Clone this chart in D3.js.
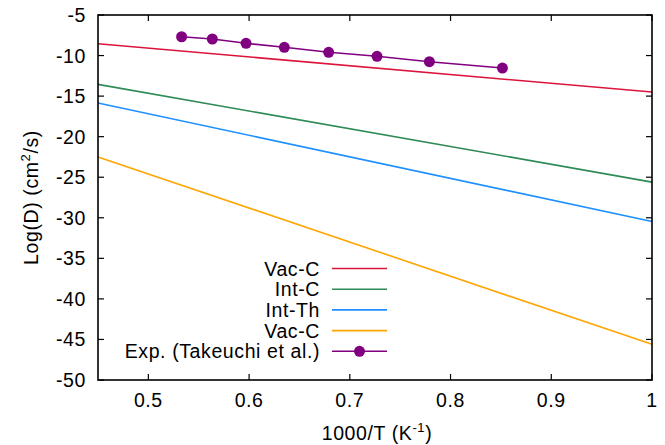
<!DOCTYPE html>
<html>
<head>
<meta charset="utf-8">
<script src="https://cdn.jsdelivr.net/npm/d3@7"></script>
<style>
  body { margin: 0; background: #fff; }
  text { font-family: "Liberation Sans", Arial, sans-serif; fill: #000; letter-spacing: 0.6px; }
</style>
</head>
<body>
<div id="chart"></div>
<script>
// model lines: [x, logD] at both ends of the plot
const seriesNames = ['Vac-C', 'Int-C', 'Int-Th', 'Vac-C'];
const seriesColors = ['#dc143c', '#2e8b57', '#1e90ff', '#ffa500'];
const lineX = [0.45, 1.0];
const vacC1 = [-8.55, -14.5];
const intC = [-13.55, -25.6];
const intTh = [-15.85, -30.45];
const vacC2 = [-22.5, -45.6];

// experiment (Takeuchi et al.)
const expX = [0.533, 0.5635, 0.597, 0.635, 0.679, 0.727, 0.779, 0.8515];
const expY = [-7.68, -7.96, -8.49, -8.98, -9.6, -10.09, -10.76, -11.54];

const xTicks = [0.5, 0.6, 0.7, 0.8, 0.9, 1];
const yTicks = [-5, -10, -15, -20, -25, -30, -35, -40, -45, -50];

const W = 665, H = 445;
const margin = {top: 15, right: 13, bottom: 65, left: 98};
const fs = 19.5;

const svg = d3.select('#chart').append('svg')
    .attr('width', W).attr('height', H);

const x = d3.scaleLinear().domain([0.45, 1.0]).range([margin.left, W - margin.right]);
const y = d3.scaleLinear().domain([-50, -5]).range([H - margin.bottom, margin.top]);

const x0 = margin.left, x1 = W - margin.right;
const y0 = H - margin.bottom, y1 = margin.top;

// ticks (inward, mirrored)
const tl = 6;
const tickG = svg.append('g').attr('stroke', '#000').attr('stroke-width', 1.2);
xTicks.forEach(function (t) {
    tickG.append('line').attr('x1', x(t)).attr('x2', x(t)).attr('y1', y0).attr('y2', y0 - tl);
    tickG.append('line').attr('x1', x(t)).attr('x2', x(t)).attr('y1', y1).attr('y2', y1 + tl);
});
yTicks.forEach(function (t) {
    tickG.append('line').attr('x1', x0).attr('x2', x0 + tl).attr('y1', y(t)).attr('y2', y(t));
    tickG.append('line').attr('x1', x1).attr('x2', x1 - tl).attr('y1', y(t)).attr('y2', y(t));
});

svg.append('g').selectAll('text').data(xTicks).join('text')
    .attr('x', d => x(d)).attr('y', y0 + 27)
    .attr('text-anchor', 'middle').attr('font-size', fs)
    .text(d => d);
svg.append('g').selectAll('text').data(yTicks).join('text')
    .attr('x', x0 - 12).attr('y', d => y(d) + 7)
    .attr('text-anchor', 'end').attr('font-size', fs)
    .text(d => d);

// model lines
const lineData = [vacC1, intC, intTh, vacC2];
const line = d3.line().x(d => x(d[0])).y(d => y(d[1]));
lineData.forEach(function (vals, i) {
    svg.append('path')
        .datum(lineX.map((v, j) => [v, vals[j]]))
        .attr('fill', 'none').attr('stroke', seriesColors[i]).attr('stroke-width', 1.6)
        .attr('d', line);
});

// experiment
const expData = expX.map((v, i) => [v, expY[i]]);
svg.append('path').datum(expData)
    .attr('fill', 'none').attr('stroke', '#800080').attr('stroke-width', 1.6)
    .attr('d', line);
svg.append('g').selectAll('circle').data(expData).join('circle')
    .attr('cx', d => x(d[0])).attr('cy', d => y(d[1])).attr('r', 5.5)
    .attr('fill', '#800080');

// frame
svg.append('rect')
    .attr('x', x0).attr('y', y1).attr('width', x1 - x0).attr('height', y0 - y1)
    .attr('fill', 'none').attr('stroke', '#000').attr('stroke-width', 1.6);

// legend
const legNames = seriesNames.concat(['Exp. (Takeuchi et al.)']);
const legColors = seriesColors.concat(['#800080']);
const legTop = 268.5, legStep = 20.7;
const leg = svg.append('g');
legNames.forEach(function (n, i) {
    const ly = legTop + i * legStep;
    leg.append('text').attr('x', 320).attr('y', ly + 7)
        .attr('text-anchor', 'end').attr('font-size', fs).text(n);
    leg.append('line').attr('x1', 332).attr('x2', 387).attr('y1', ly).attr('y2', ly)
        .attr('stroke', legColors[i]).attr('stroke-width', 1.6);
    if (i === legNames.length - 1) {
        leg.append('circle').attr('cx', 359.5).attr('cy', ly).attr('r', 5.5).attr('fill', legColors[i]);
    }
});

// axis labels
const xl = svg.append('text').attr('x', (x0 + x1) / 2 + 2).attr('y', 440)
    .attr('text-anchor', 'middle').attr('font-size', fs);
xl.append('tspan').text('1000/T (K');
xl.append('tspan').attr('dy', -8).attr('font-size', 13).text('-1');
xl.append('tspan').attr('dy', 8).text(')');

const yl = svg.append('text')
    .attr('transform', 'translate(38,' + ((y0 + y1) / 2) + ') rotate(-90)')
    .attr('text-anchor', 'middle').attr('font-size', fs);
yl.append('tspan').text('Log(D) (cm');
yl.append('tspan').attr('dy', -8).attr('font-size', 13).text('2');
yl.append('tspan').attr('dy', 8).text('/s)');
</script>
</body>
</html>
